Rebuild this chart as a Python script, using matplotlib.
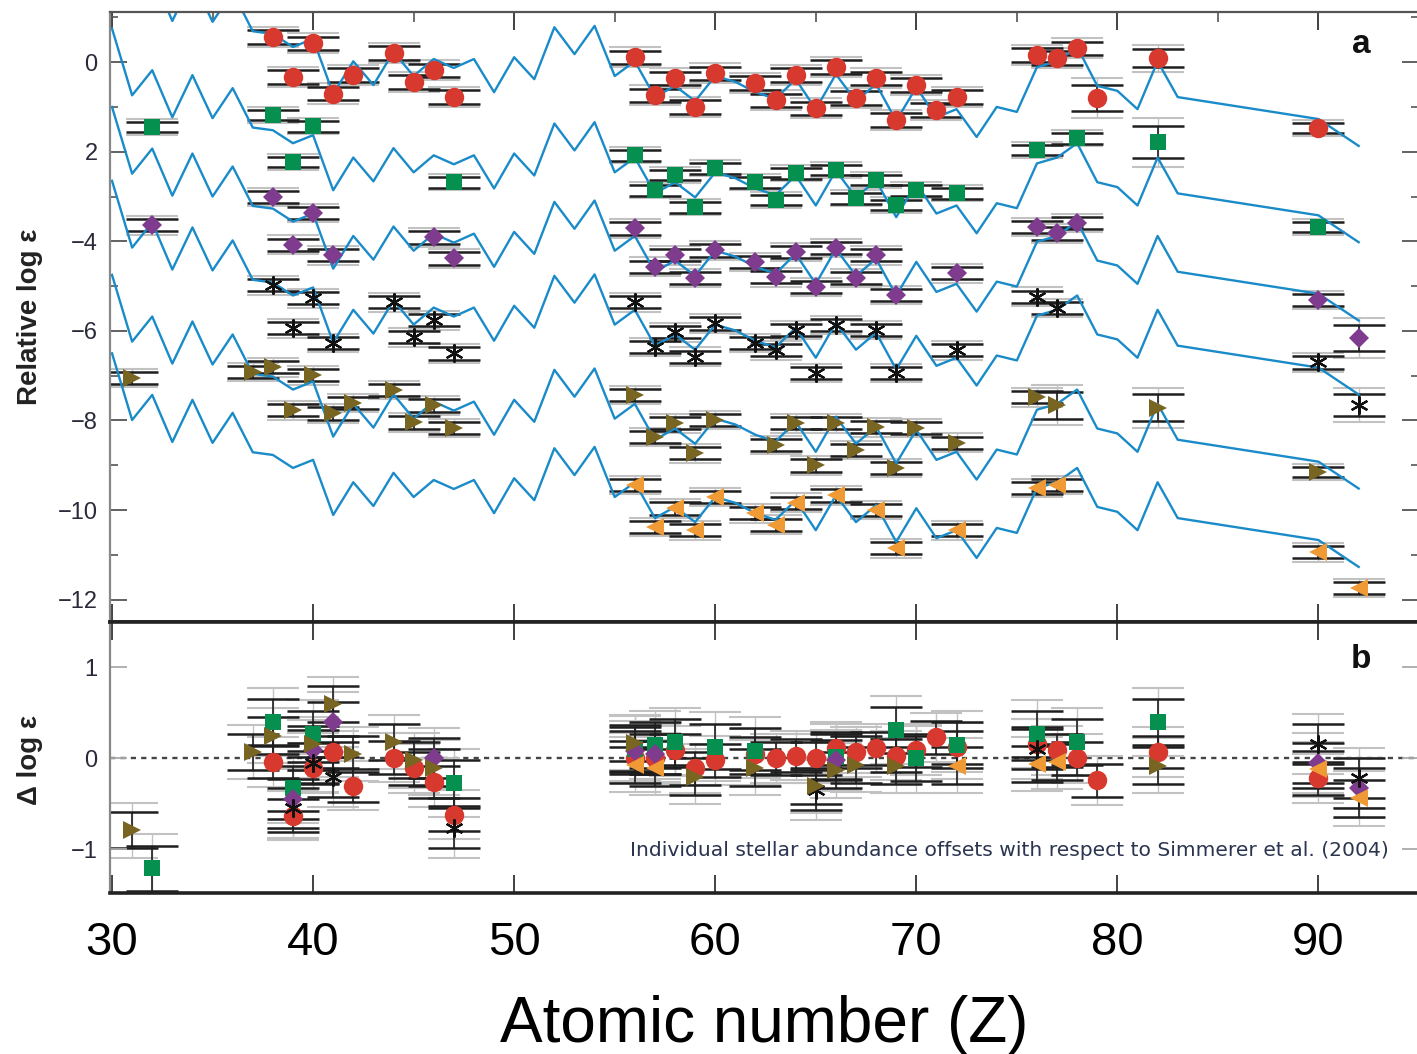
import numpy as np
import matplotlib.pyplot as plt
from matplotlib.ticker import MultipleLocator

plt.rcParams['font.family'] = ['Liberation Sans', 'DejaVu Sans']

# scaled solar r-process pattern (lowest curve), other curves are shifted copies
pat_z = list(range(30, 84)) + [90, 92]
pat_y = [-6.50, -7.99, -7.43, -8.48, -7.54, -8.50, -7.83, -8.71, -8.77, -9.06,
         -8.88, -10.11, -9.38, -9.91, -9.17, -9.71, -9.33, -9.53, -9.33, -10.07,
         -9.29, -9.78, -8.62, -9.22, -8.59, -9.71, -9.38, -10.18, -9.93, -10.27,
         -9.71, -9.84, -10.07, -10.22, -9.78, -10.45, -9.67, -10.27, -9.89, -10.71,
         -9.96, -10.63, -10.45, -11.07, -10.40, -10.51, -9.51, -9.38, -9.06, -9.93,
         -10.04, -10.45, -9.38, -10.18, -10.67, -11.27]
line_offsets = [9.4, 7.25, 5.5, 3.85, 1.75, 0.0]

# panel a: stellar abundances
z1 = [38, 39, 40, 41, 42, 44, 45, 46, 47, 56, 57, 58, 59, 60, 62, 63, 64, 65, 66, 67,
      68, 69, 70, 71, 72, 76, 77, 78, 79, 82, 90]
y1 = [0.56, -0.33, 0.42, -0.70, -0.29, 0.20, -0.44, -0.18, -0.78, 0.11, -0.74, -0.36,
      -1.00, -0.25, -0.47, -0.85, -0.29, -1.03, -0.11, -0.80, -0.36, -1.29, -0.51,
      -1.07, -0.78, 0.16, 0.09, 0.31, -0.80, 0.09, -1.47]
e1 = [0.15] * 28 + [0.3, 0.2, 0.12]

z2 = [32, 38, 39, 40, 47, 56, 57, 58, 59, 60, 62, 63, 64, 66, 67, 68, 69, 70, 72, 76,
      78, 82, 90]
y2 = [-1.45, -1.18, -2.23, -1.43, -2.68, -2.08, -2.86, -2.52, -3.24, -2.37, -2.68,
      -3.08, -2.48, -2.41, -3.04, -2.63, -3.19, -2.86, -2.93, -1.96, -1.70, -1.79, -3.68]
e2 = [0.12] * 21 + [0.36, 0.12]

z3 = [32, 38, 39, 40, 41, 46, 47, 56, 57, 58, 59, 60, 62, 63, 64, 65, 66, 67, 68, 69,
      72, 76, 77, 78, 90, 92]
y3 = [-3.64, -3.01, -4.08, -3.37, -4.31, -3.91, -4.38, -3.71, -4.57, -4.31, -4.82,
      -4.20, -4.46, -4.80, -4.24, -5.02, -4.15, -4.82, -4.31, -5.20, -4.71, -3.68,
      -3.82, -3.59, -5.31, -6.16]
e3 = [0.14] * 25 + [0.3]

z4 = [38, 39, 40, 41, 44, 45, 46, 47, 56, 57, 58, 59, 60, 62, 63, 64, 65, 66, 68, 69,
      72, 76, 77, 90, 92]
y4 = [-4.98, -5.94, -5.27, -6.27, -5.36, -6.14, -5.76, -6.50, -5.36, -6.36, -6.03,
      -6.58, -5.83, -6.27, -6.43, -5.98, -6.94, -5.87, -5.98, -6.94, -6.43, -5.24,
      -5.49, -6.70, -7.66]
e4 = [0.14] * 24 + [0.25]

z5 = [31, 37, 38, 39, 40, 41, 42, 44, 45, 46, 47, 56, 57, 58, 59, 60, 63, 64, 65, 66,
      67, 68, 69, 70, 72, 76, 77, 82, 90]
y5 = [-7.05, -6.92, -6.81, -7.77, -6.99, -7.84, -7.61, -7.32, -8.04, -7.66, -8.17,
      -7.43, -8.37, -8.06, -8.73, -7.99, -8.55, -8.06, -9.00, -8.06, -8.66, -8.15,
      -9.06, -8.17, -8.50, -7.48, -7.66, -7.72, -9.15]
e5 = [0.14] * 26 + [0.3, 0.3, 0.12]

z6 = [56, 57, 58, 59, 60, 62, 63, 64, 66, 68, 69, 72, 76, 77, 90, 92]
y6 = [-9.44, -10.38, -9.96, -10.45, -9.71, -10.07, -10.33, -9.84, -9.67, -10.00,
      -10.85, -10.45, -9.51, -9.44, -10.94, -11.74]
e6 = [0.14] * 16

# panel b: offsets with respect to Simmerer et al. (2004)
zb1 = [38, 39, 40, 41, 42, 44, 45, 46, 47, 56, 57, 58, 59, 60, 62, 63, 64, 65, 66, 67,
       68, 69, 70, 71, 72, 76, 77, 78, 79, 82, 90]
yb1 = [-0.04, -0.63, -0.10, 0.07, -0.30, 0.01, -0.11, -0.26, -0.62, 0.01, 0.01, 0.09,
       -0.11, -0.02, 0.05, 0.00, 0.03, 0.00, 0.11, 0.07, 0.11, 0.03, 0.09, 0.23, 0.12,
       0.16, 0.09, 0.00, -0.24, 0.07, -0.22]
zb2 = [32, 38, 39, 40, 47, 56, 57, 58, 60, 62, 66, 69, 70, 72, 76, 78, 82]
yb2 = [-1.21, 0.40, -0.33, 0.27, -0.27, 0.10, 0.15, 0.18, 0.13, 0.08, 0.02, 0.31,
       0.00, 0.15, 0.27, 0.18, 0.40]
zb3 = [39, 40, 41, 46, 56, 57, 66, 90, 92]
yb3 = [-0.45, 0.09, 0.40, 0.00, 0.08, 0.05, -0.02, -0.05, -0.32]
zb4 = [39, 40, 41, 47, 65, 76, 90, 92]
yb4 = [-0.55, -0.05, -0.20, -0.77, -0.35, 0.10, 0.16, -0.22]
zb5 = [31, 37, 38, 40, 41, 42, 44, 45, 46, 56, 59, 62, 65, 66, 67, 69, 82]
yb5 = [-0.79, 0.07, 0.25, 0.16, 0.60, 0.05, 0.18, -0.02, -0.10, 0.17, -0.20, -0.10,
       -0.30, -0.13, -0.07, -0.08, -0.08]
zb6 = [56, 57, 72, 76, 77, 90, 92]
yb6 = [-0.07, -0.10, -0.08, -0.06, -0.04, -0.12, -0.44]
errb = [0.18, 0.25, 0.22, 0.22, 0.2, 0.2]

colors = ['#d8392e', '#05904f', '#7f3b8e', '#111111', '#786522', '#f09a35']
markers = ['o', 's', 'D', (6, 2, 0), '>', '<']
msizes = [14, 11, 10, 13, 13, 13]
line_col = '#1a8bc9'

top_sets = [(z1, y1, e1), (z2, y2, e2), (z3, y3, e3), (z4, y4, e4), (z5, y5, e5), (z6, y6, e6)]
bot_sets = [(zb1, yb1), (zb2, yb2), (zb3, yb3), (zb4, yb4), (zb5, yb5), (zb6, yb6)]

fig = plt.figure(figsize=(14.17, 10.54), dpi=100)
L, W = 110 / 1417, 1309 / 1417
ax1 = fig.add_axes([L, 432 / 1054, W, 610 / 1054])
ax2 = fig.add_axes([L, 161 / 1054, W, 271 / 1054])

# blue pattern curves
for off in line_offsets:
    ax1.plot(pat_z, np.array(pat_y) + off, color=line_col, lw=1.7, zorder=2)


def draw_points(ax, z, y, err, i):
    err = np.array(err)
    ax.errorbar(z, y, yerr=err * 1.5, fmt='none', ecolor='#c2c2c2', elinewidth=1,
                capsize=19, capthick=1.5, zorder=1)
    ax.errorbar(z, y, yerr=err, fmt='none', ecolor='#1e1e1e', elinewidth=1.2,
                capsize=19, capthick=1.8, zorder=1.5)
    mew = 1.6 if i == 3 else 0
    ax.plot(z, y, ls='none', marker=markers[i], ms=msizes[i], color=colors[i],
            mec=colors[i], mew=mew, zorder=4)


for i, (z, y, e) in enumerate(top_sets):
    draw_points(ax1, z, y, e, i)

ax2.axhline(0, color='#444444', lw=1.7, ls=(0, (2.2, 2.2)), zorder=0)
for i, (z, y) in enumerate(bot_sets):
    draw_points(ax2, z, y, [errb[i]] * len(z), i)

# axes cosmetics
ax1.set_xlim(29.9, 95.0)
ax2.set_xlim(29.9, 95.0)
ax1.set_ylim(-12.5, 1.12)
ax2.set_ylim(-1.48, 1.5)

tick_col = '#555555'
ax1.set_yticks([0, -2, -4, -6, -8, -10, -12])
ax1.set_yticklabels(['0', '2', '\u22124', '\u22126', '\u22128', '\u221210', '\u221212'])
ax1.yaxis.set_minor_locator(MultipleLocator(1))
ax1.xaxis.set_major_locator(MultipleLocator(10))
ax1.xaxis.set_minor_locator(MultipleLocator(5))
ax1.tick_params(axis='y', which='major', direction='in', length=12, width=1.3,
                color=tick_col, left=True, right=True, labelsize=17, pad=9,
                labelcolor='#2a2a3a')
ax1.tick_params(axis='y', which='minor', direction='in', length=6, width=1.2,
                color=tick_col, left=True, right=True)
ax1.tick_params(axis='x', which='major', direction='in', length=13, width=1.3,
                color='#333333', top=True, bottom=True, labelbottom=False)
ax1.tick_params(axis='x', which='minor', direction='in', length=7, width=1.2,
                color='#555555', top=True, bottom=False)

ax2.set_yticks([1, 0, -1])
ax2.set_yticklabels(['1', '0', '\u22121'])
ax2.xaxis.set_major_locator(MultipleLocator(10))
ax2.tick_params(axis='y', direction='in', length=12, width=1.3, color='#aaaaaa',
                left=True, right=True, labelsize=17, pad=9, labelcolor='#2a2a3a')
ax2.tick_params(axis='x', direction='in', length=13, width=1.3, color='#333333',
                top=True, bottom=True, labelsize=34, pad=20)

for ax in (ax1, ax2):
    ax.spines['left'].set_color('#888888')
    ax.spines['left'].set_linewidth(1.6)
    ax.spines['right'].set_color('#888888')
ax1.spines['top'].set_color('#555555')
ax1.spines['top'].set_linewidth(1.6)
ax1.spines['bottom'].set_color('#222222')
ax1.spines['bottom'].set_linewidth(2.6)
ax2.spines['top'].set_color('#222222')
ax2.spines['top'].set_linewidth(2.6)
ax2.spines['bottom'].set_color('#222222')
ax2.spines['bottom'].set_linewidth(2.6)

ax1.set_ylabel('Relative log \u03b5', fontsize=20, fontweight='bold', color='#222222')
ax1.yaxis.set_label_coords(-0.051, 0.5)
ax2.set_ylabel('\u0394 log \u03b5', fontsize=20, fontweight='bold', color='#222222')
ax2.yaxis.set_label_coords(-0.051, 0.49)
ax2.set_xlabel('Atomic number (Z)', fontsize=46, labelpad=22)

ax1.text(0.956, 0.946, 'a', transform=ax1.transAxes, fontsize=24, fontweight='bold',
         ha='center', va='center', color='#111111')
ax2.text(0.956, 0.86, 'b', transform=ax2.transAxes, fontsize=24, fontweight='bold',
         ha='center', va='center', color='#111111')
ax2.text(0.977, 0.155,
         'Individual stellar abundance offsets with respect to Simmerer et al. (2004)',
         transform=ax2.transAxes, fontsize=14.6, ha='right', va='center',
         color='#2b3550', family=['DejaVu Sans'])

fig.savefig('out.png', dpi=100)
